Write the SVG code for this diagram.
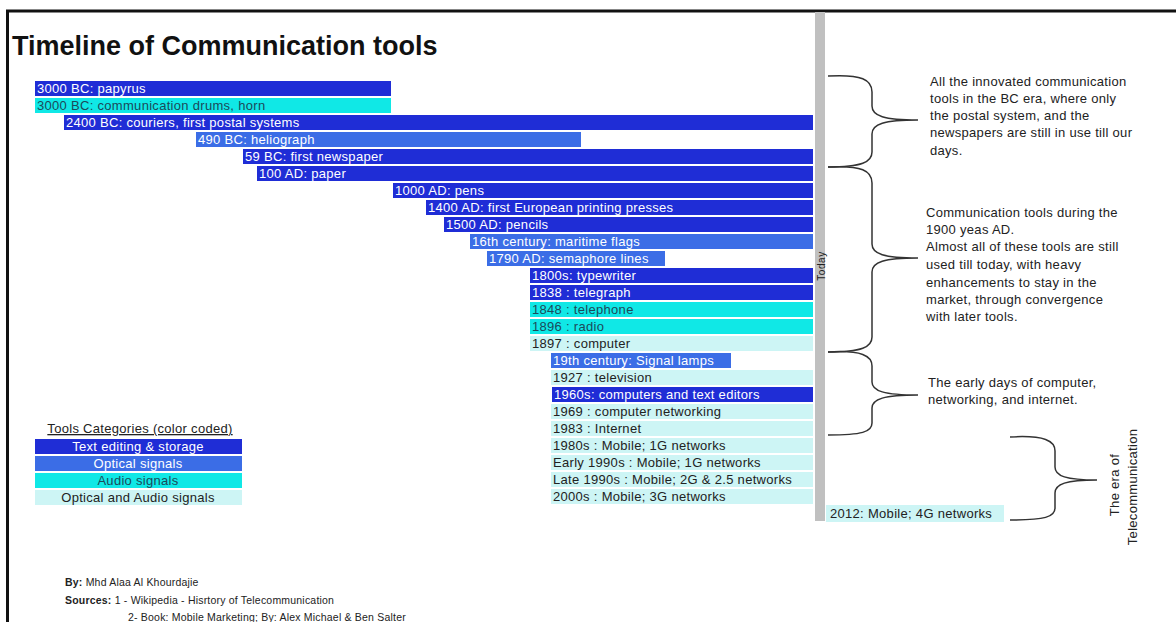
<svg xmlns="http://www.w3.org/2000/svg" width="1176" height="622" viewBox="0 0 1176 622">
<style>
text{font-family:"Liberation Sans",Arial,sans-serif}
.bar text{font-size:13px;letter-spacing:0.3px}
.d rect{fill:#1f2dd6}.d text{fill:#fff}
.o rect{fill:#3b6de6}.o text{fill:#fff}
.a rect{fill:#10e8e6}.a text{fill:#1c4a5a}
.l rect{fill:#cdf5f5}.l text{fill:#222}
.note{font-size:13px;letter-spacing:0.3px;fill:#222}
.brace{fill:none;stroke:#333;stroke-width:1.5}
.cred{font-size:10.5px;letter-spacing:0.2px;fill:#222}
</style>
<rect width="1176" height="622" fill="#fff"/>
<path d="M7.5,622 V11 H1176" fill="none" stroke="#111" stroke-width="3"/>
<text x="12" y="55" font-size="27" font-weight="bold" fill="#111">Timeline of Communication tools</text>
<rect id="today" x="815" y="12" width="10" height="509" fill="#c0c0c0"/>
<text x="0" y="0" font-size="10" letter-spacing="0.6" fill="#222" text-anchor="middle" transform="translate(824.5,266) rotate(-90)">Today</text>
<g id="bars">
<g id="b1" class="bar d"><rect x="35" y="81" width="356" height="15"/><text x="37" y="93">3000 BC: papyrus</text></g>
<g id="b2" class="bar a"><rect x="35" y="98" width="356" height="15"/><text x="37" y="110">3000 BC: communication drums, horn</text></g>
<g id="b3" class="bar d"><rect x="64" y="115" width="749" height="15"/><text x="66" y="127">2400 BC: couriers, first postal systems</text></g>
<g id="b4" class="bar o"><rect x="196" y="132" width="385" height="15"/><text x="198" y="144">490 BC: heliograph</text></g>
<g id="b5" class="bar d"><rect x="243" y="149" width="570" height="15"/><text x="245" y="161">59 BC: first newspaper</text></g>
<g id="b6" class="bar d"><rect x="257" y="166" width="556" height="15"/><text x="259" y="178">100 AD: paper</text></g>
<g id="b7" class="bar d"><rect x="393" y="183" width="420" height="15"/><text x="395" y="195">1000 AD: pens</text></g>
<g id="b8" class="bar d"><rect x="426" y="200" width="387" height="15"/><text x="428" y="212">1400 AD: first European printing presses</text></g>
<g id="b9" class="bar d"><rect x="444" y="217" width="369" height="15"/><text x="446" y="229">1500 AD: pencils</text></g>
<g id="b10" class="bar o"><rect x="470" y="234" width="343" height="15"/><text x="472" y="246">16th century: maritime flags</text></g>
<g id="b11" class="bar o"><rect x="487" y="251" width="178" height="15"/><text x="489" y="263">1790 AD: semaphore lines</text></g>
<g id="b12" class="bar d"><rect x="530" y="268" width="283" height="15"/><text x="532" y="280">1800s: typewriter</text></g>
<g id="b13" class="bar d"><rect x="530" y="285" width="283" height="15"/><text x="532" y="297">1838 : telegraph</text></g>
<g id="b14" class="bar a"><rect x="530" y="302" width="283" height="15"/><text x="532" y="314">1848 : telephone</text></g>
<g id="b15" class="bar a"><rect x="530" y="319" width="283" height="15"/><text x="532" y="331">1896 : radio</text></g>
<g id="b16" class="bar l"><rect x="530" y="336" width="283" height="15"/><text x="532" y="348">1897 : computer</text></g>
<g id="b17" class="bar o"><rect x="551" y="353" width="180" height="15"/><text x="553" y="365">19th century: Signal lamps</text></g>
<g id="b18" class="bar l"><rect x="551" y="370" width="262" height="15"/><text x="553" y="382">1927 : television</text></g>
<g id="b19" class="bar d"><rect x="552" y="387" width="261" height="15"/><text x="554" y="399">1960s: computers and text editors</text></g>
<g id="b20" class="bar l"><rect x="551" y="404" width="262" height="15"/><text x="553" y="416">1969 : computer networking</text></g>
<g id="b21" class="bar l"><rect x="551" y="421" width="262" height="15"/><text x="553" y="433">1983 : Internet</text></g>
<g id="b22" class="bar l"><rect x="551" y="438" width="262" height="15"/><text x="553" y="450">1980s : Mobile; 1G networks</text></g>
<g id="b23" class="bar l"><rect x="551" y="455" width="262" height="15"/><text x="553" y="467">Early 1990s : Mobile; 1G networks</text></g>
<g id="b24" class="bar l"><rect x="551" y="472" width="262" height="15"/><text x="553" y="484">Late 1990s : Mobile; 2G &amp; 2.5 networks</text></g>
<g id="b25" class="bar l"><rect x="551" y="489" width="262" height="15"/><text x="553" y="501">2000s : Mobile; 3G networks</text></g>
<g id="b26" class="bar l"><rect x="826" y="505" width="178" height="17"/><text x="830" y="518">2012: Mobile; 4G networks</text></g>
</g>
<g id="connectors">
<path class="brace" d="M828,76 C862,74 872,80 872,92 L872,106 C872,116 884,120 918,120 C884,120 872,124 872,134 L872,152 C872,162 862,167 828,167"/>
<path class="brace" d="M828,167 C862,165 872,171 872,183 L872,244 C872,254 884,258 918,258 C884,258 872,262 872,272 L872,337 C872,347 862,352 828,352"/>
<path class="brace" d="M828,352 C862,350 872,356 872,366 L872,382 C872,391 884,395 918,395 C884,395 872,399 872,408 L872,423 C872,432 862,435 828,435"/>
<path class="brace" d="M1010,437 C1045,435 1055,441 1055,451 L1055,467 C1055,476 1066,480 1097,480 C1066,480 1055,484 1055,493 L1055,508 C1055,517 1045,520 1010,520"/>
</g>
<g id="note1">
<text class="note" x="930" y="86">All the innovated communication</text>
<text class="note" x="930" y="103">tools in the BC era, where only</text>
<text class="note" x="930" y="120">the postal system, and the</text>
<text class="note" x="930" y="137">newspapers are still in use till our</text>
<text class="note" x="930" y="155">days.</text>
</g>
<g id="note2">
<text class="note" x="926" y="217">Communication tools during the</text>
<text class="note" x="926" y="234">1900 yeas AD.</text>
<text class="note" x="926" y="251">Almost all of these tools are still</text>
<text class="note" x="926" y="269">used till today, with heavy</text>
<text class="note" x="926" y="287">enhancements to stay in the</text>
<text class="note" x="926" y="304">market, through convergence</text>
<text class="note" x="926" y="321">with later tools.</text>
</g>
<g id="note3">
<text class="note" x="928" y="387">The early days of computer,</text>
<text class="note" x="928" y="404">networking, and internet.</text>
</g>
<g id="note4">
<text class="note" text-anchor="middle" transform="translate(1119,485) rotate(-90)">The era of</text>
<text class="note" text-anchor="middle" transform="translate(1137,487) rotate(-90)">Telecommunication</text>
</g>
<g id="legend">
<text x="140" y="433" font-size="13" letter-spacing="0.3" fill="#222" text-anchor="middle" text-decoration="underline">Tools Categories (color coded)</text>
<g class="bar d"><rect x="35" y="439" width="207" height="15"/><text x="138" y="451" text-anchor="middle">Text editing &amp; storage</text></g>
<g class="bar o"><rect x="35" y="456" width="207" height="15"/><text x="138" y="468" text-anchor="middle">Optical signals</text></g>
<g class="bar a"><rect x="35" y="473" width="207" height="15"/><text x="138" y="485" text-anchor="middle">Audio signals</text></g>
<g class="bar l"><rect x="35" y="490" width="207" height="15"/><text x="138" y="502" text-anchor="middle">Optical and Audio signals</text></g>
</g>
<g id="credits">
<text class="cred" x="65" y="586"><tspan font-weight="bold">By:</tspan> Mhd Alaa Al Khourdajie</text>
<text class="cred" x="65" y="604"><tspan font-weight="bold">Sources:</tspan> 1 - Wikipedia - Hisrtory of Telecommunication</text>
<text class="cred" x="128" y="621">2- Book: Mobile Marketing; By: Alex Michael &amp; Ben Salter</text>
</g>
</svg>
